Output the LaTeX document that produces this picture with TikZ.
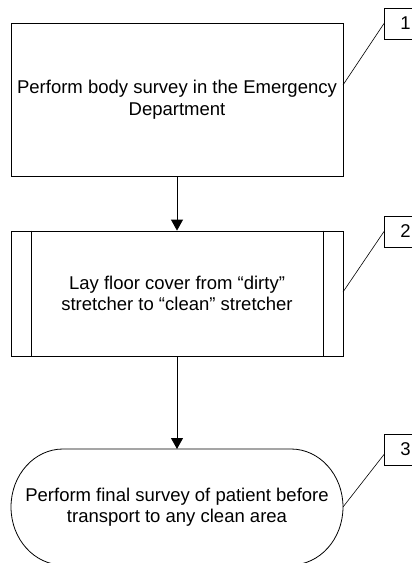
\documentclass[tikz,border=0pt]{standalone}
\usepackage{fontspec}
\setmainfont{Liberation Sans}
\usetikzlibrary{arrows.meta,calc}
\begin{document}
\begin{tikzpicture}[x=1pt,y=-1pt,
  line width=0.8pt,
  txt/.style={align=center,font=\fontsize{18.5}{21.5}\selectfont},
  stepbox/.style={draw,txt,minimum width=332pt,inner sep=0pt},
  callout/.style={draw,anchor=west,minimum width=42pt,minimum height=31pt,inner sep=0pt,font=\fontsize{18.5}{21.5}\selectfont},
  leader/.style={line width=0.6pt},
  flow/.style={-{Triangle[width=12pt,length=11pt]}}
]
\useasboundingbox (0,0) rectangle (412,563);
\clip (0,0) rectangle (412,563);
% box 1
\node[stepbox,minimum height=153pt] (b1) at (177,99.5) {Perform body survey in the Emergency\\Department};
% box 2 (predefined process)
\node[stepbox,minimum height=125pt] (b2) at (177,293.5) {Lay floor cover from “dirty”\\stretcher to “clean” stretcher};
\draw ($(b2.north west)+(20.5,0)$) -- ($(b2.south west)+(20.5,0)$);
\draw ($(b2.north east)+(-20.5,0)$) -- ($(b2.south east)+(-20.5,0)$);
% terminator
\node[txt,inner sep=0pt] (b3) at (177,507) {Perform final survey of patient before\\transport to any clean area};
\draw (63,449) -- (291,449) arc[start angle=-90,end angle=90,x radius=52,y radius=58]
      -- (63,565) arc[start angle=90,end angle=270,x radius=52,y radius=58] -- cycle;
\coordinate (b3top) at (177,449);
% arrows
\draw[flow] (b1.south) -- (b2.north);
\draw[flow] (b2.south) -- (b3top);
% callouts
\node[callout] (c1) at (384,23.5) {1};
\node[callout] (c2) at (384,231.5) {2};
\node[callout] (c3) at (384,449.5) {3};
\coordinate (a1) at (343,85);
\coordinate (a2) at (343,292);
\coordinate (a3) at (343,507);
\draw[leader] (a1) -- (c1.west);
\draw[leader] (a2) -- (c2.west);
\draw[leader] (a3) -- ($(c3.west)+(0,5)$);
\end{tikzpicture}
\end{document}
